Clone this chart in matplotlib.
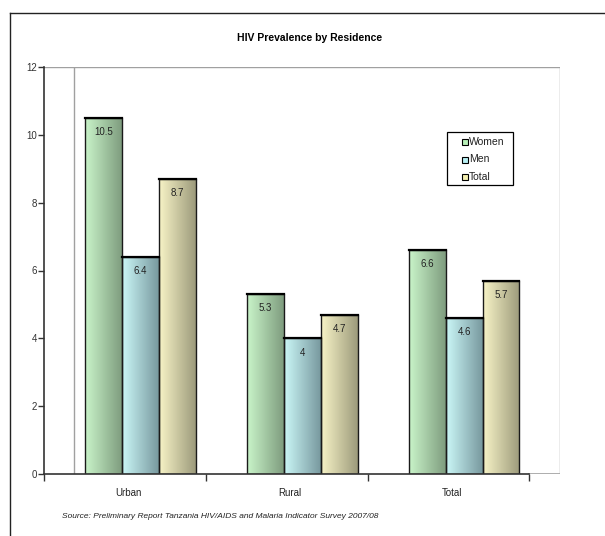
import numpy as np
import matplotlib
matplotlib.use("Agg")
import matplotlib.pyplot as plt
from matplotlib.colors import LinearSegmentedColormap
from matplotlib.patches import Rectangle
from matplotlib.lines import Line2D

plt.rcParams['font.family'] = ['Liberation Sans', 'DejaVu Sans']

# HIV prevalence (%) by residence, THMIS 2007/08
residence = ["Urban", "Rural", "Total"]
series = ["Women", "Men", "Total"]
women = [10.5, 5.3, 6.6]
men = [6.4, 4.0, 4.6]
total = [8.7, 4.7, 5.7]
value_labels = [["10.5", "5.3", "6.6"], ["6.4", "4", "4.6"], ["8.7", "4.7", "5.7"]]

# light -> dark horizontal shading for each series
shades = [("#c9f4c9", "#7f9d7f"), ("#cbf7f7", "#78999f"), ("#f7f3c6", "#9d9b7c")]
legend_colors = ["#b8f0b8", "#b8f0f4", "#f4f0b0"]

W, H = 605, 536
fig = plt.figure(figsize=(W / 100, H / 100), dpi=100)
ax = fig.add_axes([44 / W, 1 - 474 / H, 516 / W, 407 / H])

xmax = 3.19
grad = np.linspace(0, 1, 64).reshape(1, -1)
width = 0.228
start = 0.255
for s, vals in enumerate([women, men, total]):
    cmap = LinearSegmentedColormap.from_list("shade%d" % s, shades[s])
    for i, v in enumerate(vals):
        x0 = i + start + s * width
        ax.imshow(grad, cmap=cmap, aspect="auto", extent=(x0, x0 + width, 0, v),
                  interpolation="bilinear", zorder=2)
        ax.add_patch(Rectangle((x0, 0), width, v, fill=False, edgecolor="#1a1a1a",
                               linewidth=1.0, zorder=3))
        ax.plot([x0, x0 + width], [v, v], color="black", linewidth=1.6, zorder=4)
        ax.text(x0 + width / 2, v - 0.42, value_labels[s][i], ha="center", va="center",
                fontsize=7, color="#222222", zorder=5)

# back wall outline
ax.plot([0, xmax], [12, 12], color="#a0a0a0", linewidth=1.0, zorder=1)
ax.plot([xmax, xmax], [0, 12], color="#a0a0a0", linewidth=1.0, zorder=1)
ax.plot([0.186, 0.186], [0, 12], color="#a0a0a0", linewidth=1.0, zorder=1)
ax.plot([3, xmax], [0, 0], color="#a0a0a0", linewidth=1.2, zorder=1)
ax.plot([0, 3], [0, 0], color="#333333", linewidth=1.2, zorder=6, clip_on=False)

ax.set_xlim(0, xmax)
ax.set_ylim(0, 12)
for side in ["top", "right", "bottom"]:
    ax.spines[side].set_visible(False)
ax.spines["left"].set_color("#333333")
ax.spines["left"].set_linewidth(1.2)

ax.set_yticks(range(0, 13, 2))
ax.tick_params(axis="y", direction="out", length=4, width=1, colors="#333333",
               labelsize=7, pad=1)
ax.set_xticks([0, 1, 2, 3])
ax.set_xticklabels([])
ax.tick_params(axis="x", which="major", direction="out", length=5, width=1, colors="#333333")
ax.set_xticks([i + 0.52 for i in range(3)], minor=True)
ax.set_xticklabels(residence, minor=True)
ax.tick_params(axis="x", which="minor", length=0, labelsize=7, pad=10, labelcolor="#222222")

# legend box drawn by hand (figure pixel coordinates)
def px(x, y):
    return x / W, 1 - y / H

bx, by = px(447, 185)
fig.add_artist(Rectangle((bx, by), 66 / W, 53 / H, transform=fig.transFigure,
                         facecolor="white", edgecolor="black", linewidth=0.9))
for k, (name, col) in enumerate(zip(series, legend_colors)):
    yrow = 142 + k * 17.5
    sx, sy = px(462, yrow + 3)
    fig.add_artist(Rectangle((sx, sy), 6 / W, 6 / H, transform=fig.transFigure,
                             facecolor=col, edgecolor="black", linewidth=0.8))
    tx, ty = px(469, yrow)
    fig.text(tx, ty, name, ha="left", va="center", fontsize=7.5, color="#222222")

fig.text(310 / W, 1 - 38 / H, "HIV Prevalence by Residence", ha="center", va="center",
         fontsize=7.5, fontweight="bold")
fig.text(62 / W, 1 - 517 / H,
         "Source: Preliminary Report Tanzania HIV/AIDS and Malaria Indicator Survey 2007/08",
         ha="left", va="center", fontsize=6, style="italic", color="#222222")

# outer chart border
fig.add_artist(Line2D([10 / W, 10 / W], [0, 1 - 13 / H], color="#222222", linewidth=1.0))
fig.add_artist(Line2D([10 / W, 1], [1 - 13 / H, 1 - 13 / H], color="#222222", linewidth=1.0))

fig.savefig("out.png", dpi=100)
